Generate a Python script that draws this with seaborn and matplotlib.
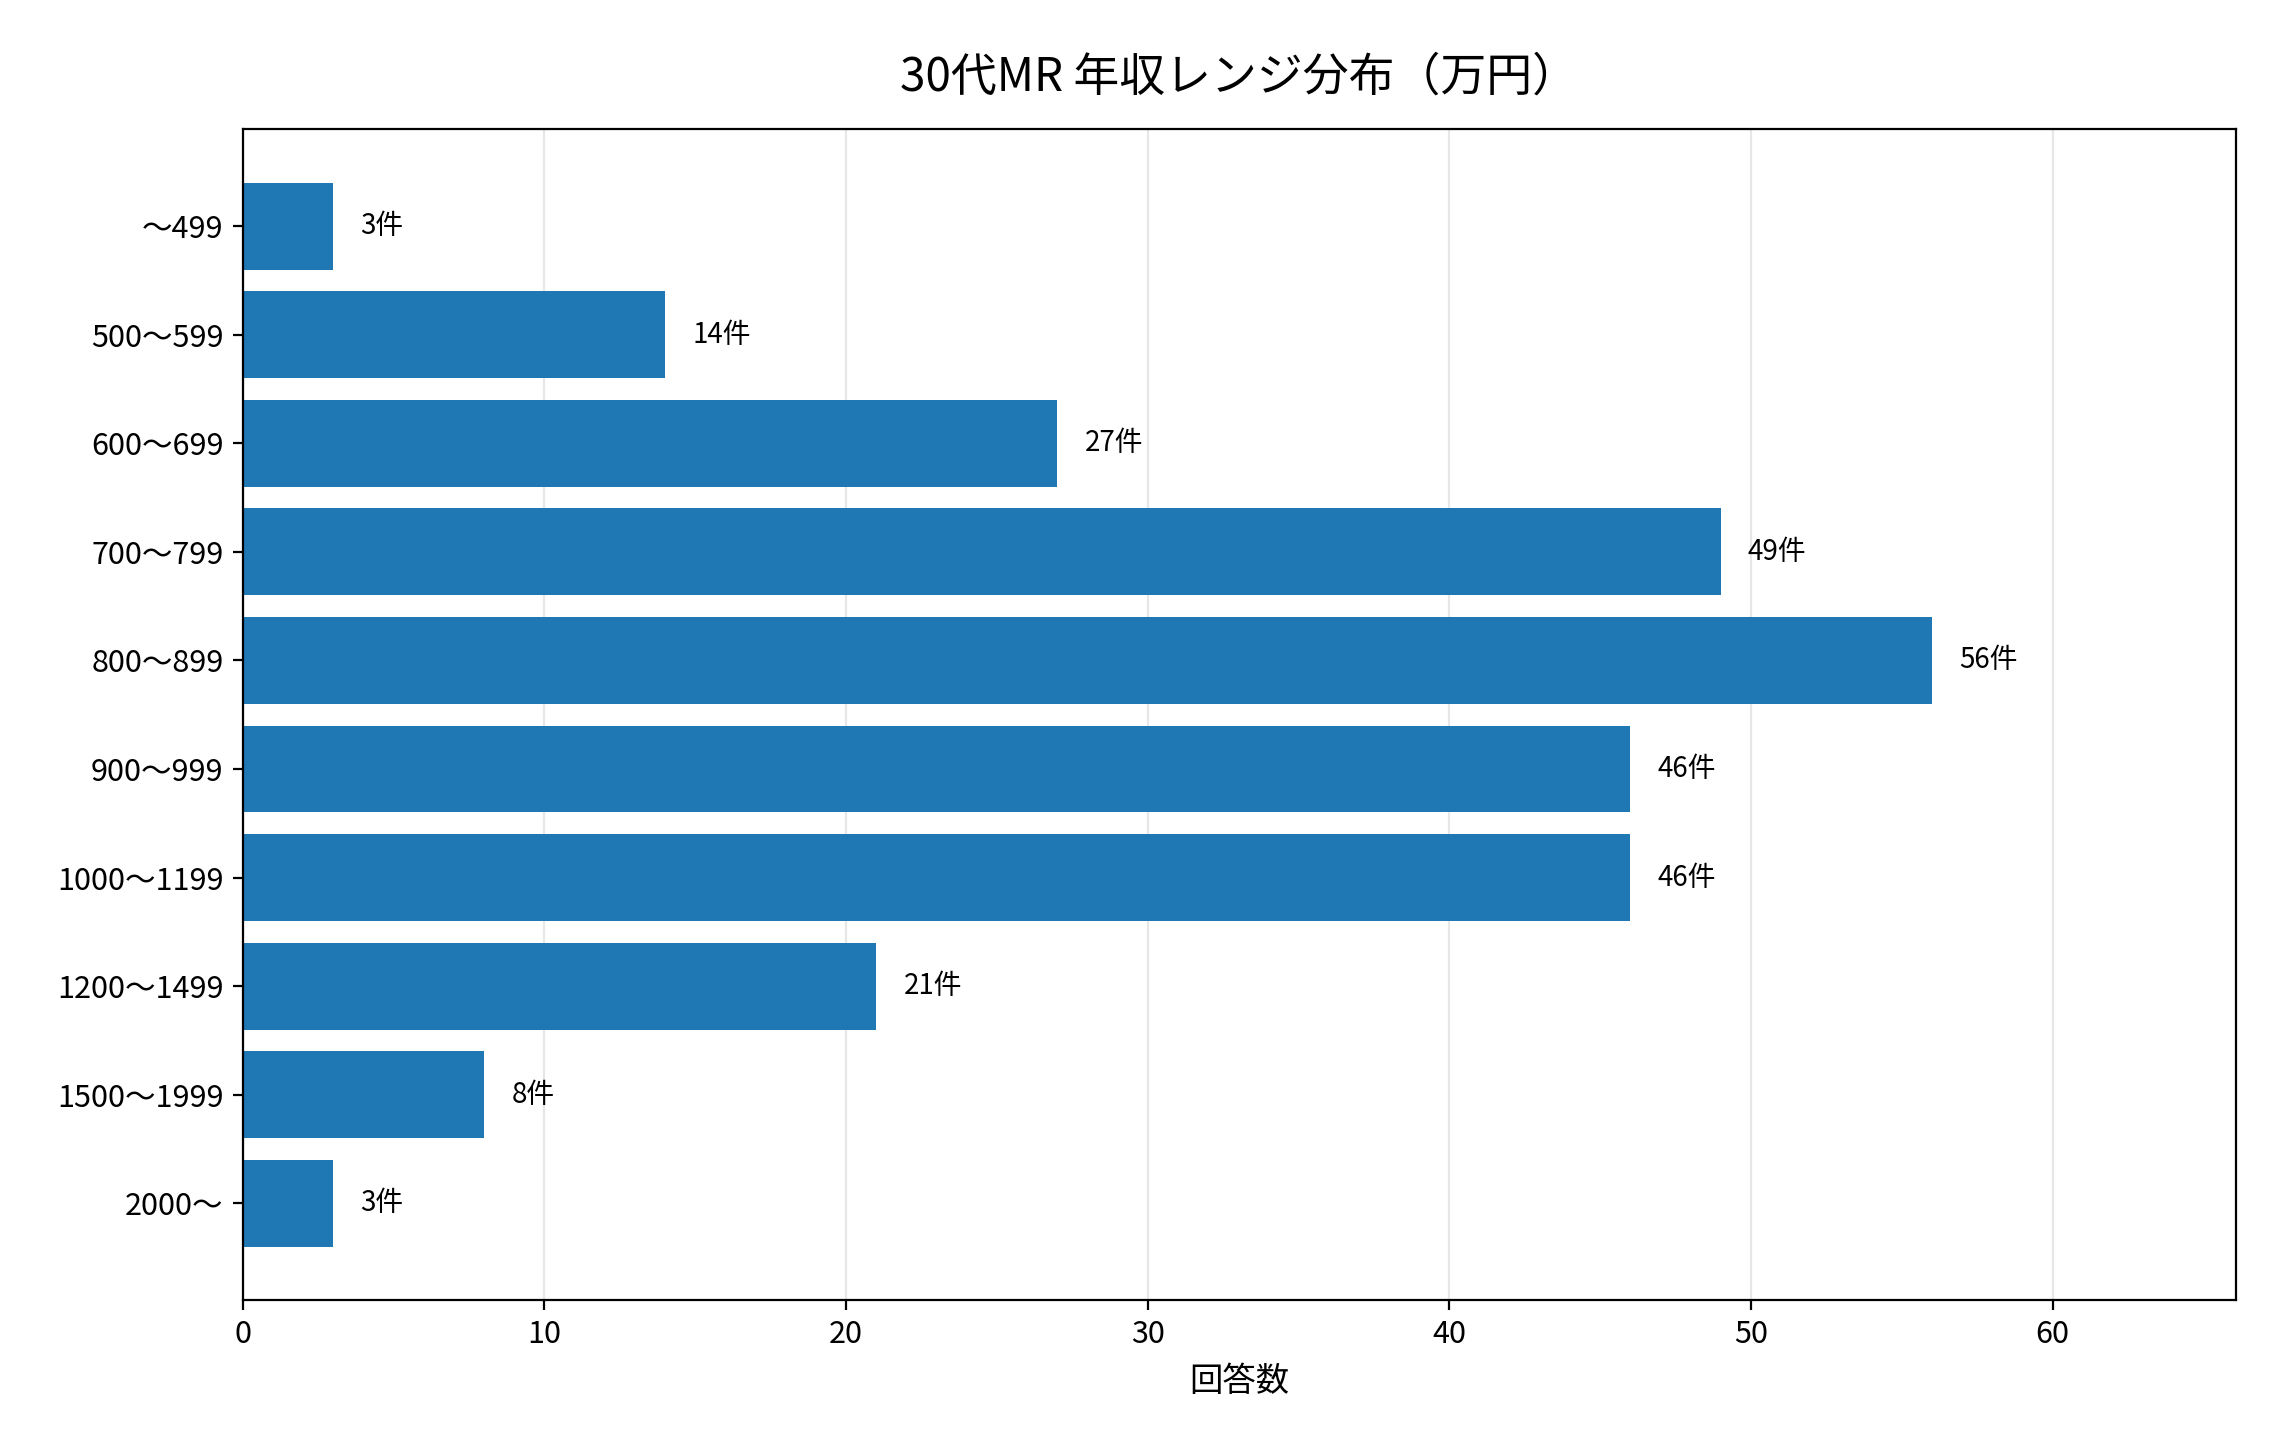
import numpy as np
import pandas as pd
import matplotlib
matplotlib.use("Agg")
import matplotlib.pyplot as plt
import seaborn as sns

plt.rcParams['font.family'] = ['Noto Sans CJK JP', 'DejaVu Sans']

# 年収レンジ（万円）と回答数
ranges = ["〜499", "500〜599", "600〜699", "700〜799", "800〜899",
          "900〜999", "1000〜1199", "1200〜1499", "1500〜1999", "2000〜"]
counts = [3, 14, 27, 49, 56, 46, 46, 21, 8, 3]

df = pd.DataFrame({"range": ranges, "count": counts})

fig, ax = plt.subplots(figsize=(11.455, 7.275), dpi=200)
fig.subplots_adjust(left=0.106, right=0.976, top=0.911, bottom=0.1065)

sns.barplot(data=df, x="count", y="range", orient="h", color="#1f77b4",
            saturation=1, width=0.8, ax=ax)

# 件数ラベル
for i, v in enumerate(counts):
    ax.text(v + 0.9, i, f"{v}件", va="center", ha="left", fontsize=10)

n = len(ranges)
ax.set_ylim(n - 0.6 + 0.49, -0.4 - 0.49)
ax.set_xlim(0, max(counts) * 1.18)
ax.set_xticks(np.arange(0, 70, 10))
ax.grid(axis="x", alpha=0.3)
ax.grid(axis="y", visible=False)
ax.set_axisbelow(True)
ax.tick_params(labelsize=11)

ax.set_title("30代MR 年収レンジ分布（万円）", fontsize=16.5, pad=14)
ax.set_xlabel("回答数", fontsize=12, labelpad=5)
ax.set_ylabel("")

plt.savefig("out.png", dpi=200)
